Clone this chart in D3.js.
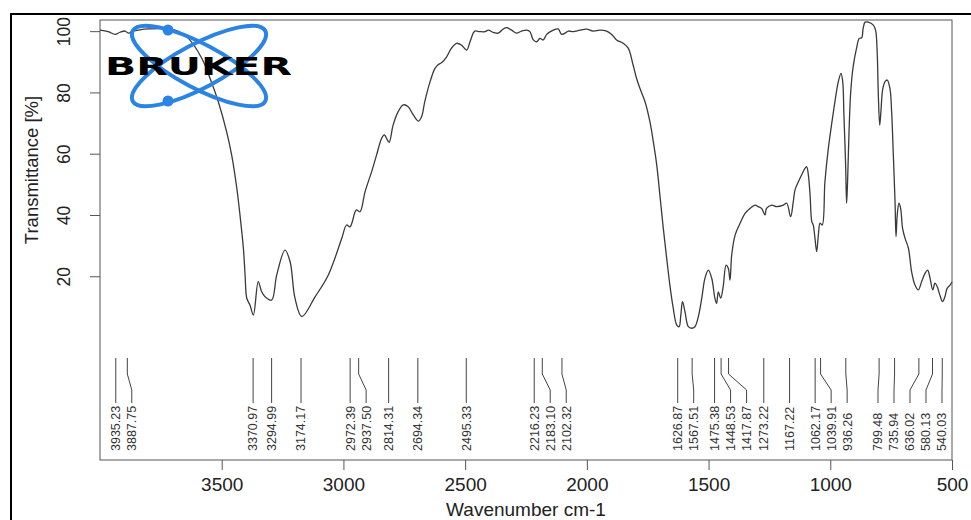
<!DOCTYPE html>
<html>
<head>
<meta charset="utf-8">
<script src="https://cdn.jsdelivr.net/npm/d3@7"></script>
<style>
body { margin: 0; background: #fff; }
svg { display: block; }
</style>
</head>
<body>
<script>
// IR spectrum, transmittance vs wavenumber

var wavenumber = [
    4000, 3966, 3938, 3918, 3897, 3884, 3870, 3843, 3802, 3692,
    3637, 3582, 3548, 3514, 3480, 3459, 3438, 3425, 3411, 3404,
    3397, 3384, 3370, 3350, 3336, 3322, 3295, 3274, 3240, 3219,
    3199, 3171, 3116, 3062, 3007, 2987, 2973, 2952, 2946, 2932,
    2911, 2884, 2864, 2843, 2832, 2823, 2812, 2796, 2775, 2754,
    2734, 2713, 2692, 2679, 2666, 2644, 2624, 2610, 2596, 2576,
    2556, 2535, 2515, 2494, 2480, 2467, 2460, 2439, 2418, 2405,
    2385, 2364, 2343, 2330, 2309, 2289, 2268, 2247, 2234, 2220,
    2206, 2193, 2179, 2165, 2138, 2118, 2104, 2090, 2076, 2056,
    2028, 2001, 1974, 1946, 1919, 1898, 1878, 1851, 1830, 1810,
    1796, 1782, 1761, 1741, 1727, 1713, 1700, 1686, 1672, 1659,
    1645, 1631, 1621, 1614, 1607, 1597, 1583, 1570, 1556, 1542,
    1528, 1515, 1501, 1487, 1474, 1467, 1460, 1450, 1440, 1428,
    1419, 1412, 1405, 1391, 1371, 1350, 1330, 1309, 1296, 1282,
    1268, 1262, 1241, 1220, 1193, 1179, 1163, 1152, 1145, 1131,
    1118, 1104, 1097, 1090, 1083, 1076, 1070, 1063, 1056, 1049,
    1042, 1033, 1022, 1008, 995, 981, 967, 956, 949, 944,
    937, 933, 929, 923, 916, 906, 892, 881, 871, 865,
    857, 844, 824, 814, 807, 803, 797, 792, 785, 775,
    766, 755, 748, 741, 734, 730, 725, 718, 711, 703,
    693, 679, 666, 652, 638, 625, 611, 600, 590, 579,
    570, 561, 550, 539, 529, 520, 508, 500
];

var transmittance = [
    100.5, 100.0, 99.1, 99.8, 100.2, 99.5, 100.0, 100.5, 100.9, 100.5,
    97.8, 91.3, 84.8, 77.1, 67.4, 59.7, 48.9, 40.2, 29.3, 20.6,
    13.0, 10.8, 7.5, 18.4, 15.1, 13.5, 12.4, 20.6, 28.7, 24.9,
    13.0, 7.0, 13.5, 20.6, 32.5, 36.9, 36.3, 41.2, 41.8, 41.2,
    47.8, 54.3, 59.7, 65.2, 66.3, 65.2, 63.9, 69.5, 73.9, 76.1,
    75.5, 72.8, 70.8, 72.2, 77.1, 83.7, 88.0, 89.3, 89.9, 91.8,
    94.6, 96.2, 95.6, 94.0, 96.7, 99.5, 100.2, 100.0, 100.0, 100.5,
    99.8, 99.5, 100.9, 101.3, 100.5, 99.5, 100.2, 100.5, 100.0, 97.3,
    96.7, 97.8, 97.3, 99.1, 100.5, 100.9, 99.1, 99.5, 100.2, 100.0,
    100.5, 100.8, 100.2, 100.5, 100.2, 99.1, 97.3, 96.2, 94.6, 89.1,
    84.8, 81.5, 77.1, 70.6, 64.1, 56.5, 46.7, 35.8, 26.0, 17.3,
    9.7, 4.3, 3.7, 7.5, 11.9, 8.6, 3.7, 3.2, 3.7, 7.0,
    13.0, 19.5, 22.2, 19.5, 13.0, 11.3, 15.1, 13.0, 16.8, 23.8,
    22.8, 18.9, 27.1, 33.6, 37.4, 40.7, 42.3, 43.4, 42.9, 42.3,
    40.2, 42.3, 43.4, 42.9, 43.4, 44.0, 39.6, 44.5, 48.3, 51.0,
    53.2, 55.4, 55.9, 53.2, 46.7, 38.0, 36.9, 32.6, 28.2, 33.6,
    37.5, 36.9, 51.0, 61.9, 69.5, 77.1, 83.7, 86.4, 83.7, 72.8,
    56.5, 44.0, 51.0, 67.3, 80.4, 88.6, 94.6, 97.8, 98.0, 101.1,
    103.1, 103.1, 102.2, 100.5, 92.4, 80.4, 69.5, 73.9, 81.0, 83.7,
    84.2, 81.5, 73.9, 59.7, 44.5, 33.1, 40.2, 44.0, 42.3, 35.8,
    32.6, 29.3, 21.7, 17.3, 15.7, 18.4, 21.1, 22.2, 19.5, 15.7,
    17.9, 16.8, 14.1, 11.9, 13.5, 16.2, 17.3, 18.3
];

// picked peaks
var peaks = [
    3935.23, 3887.75, 3370.97, 3294.99, 3174.17, 2972.39, 2937.50, 2814.31,
    2694.34, 2495.33, 2216.23, 2183.10, 2102.32, 1626.87, 1567.51, 1475.38,
    1448.53, 1417.87, 1273.22, 1167.22, 1062.17, 1039.91, 936.26, 799.48,
    735.94, 636.02, 580.13, 540.03
];

var xTicks = [3500, 3000, 2500, 2000, 1500, 1000, 500];
var yTicks = [20, 40, 60, 80, 100];

var width = 971, height = 520;
var font = "Liberation Sans, Arial, sans-serif";

var svg = d3.select("body").append("svg")
    .attr("width", width)
    .attr("height", height);

var x = d3.scaleLinear().domain([4000, 500]).range([100, 952]);
var y = d3.scaleLinear().domain([-39.8, 103.8]).range([460, 20]);

// outer frame
svg.append("rect")
    .attr("x", 11).attr("y", 14)
    .attr("width", 990).attr("height", 540)
    .attr("fill", "none")
    .attr("stroke", "#000")
    .attr("stroke-width", 2);

// plot box
svg.append("rect")
    .attr("x", x.range()[0]).attr("y", y.range()[1])
    .attr("width", x.range()[1] - x.range()[0])
    .attr("height", y.range()[0] - y.range()[1])
    .attr("fill", "none")
    .attr("stroke", "#555")
    .attr("stroke-width", 1);

// x axis
var xAxis = svg.append("g")
    .attr("transform", "translate(0," + y.range()[0] + ")")
    .call(d3.axisBottom(x).tickValues(xTicks).tickSize(10).tickPadding(8).tickFormat(d3.format("d")));
xAxis.select(".domain").remove();
xAxis.selectAll("line").attr("stroke", "#555");
xAxis.selectAll("text")
    .attr("font-family", font)
    .attr("font-size", 19)
    .attr("fill", "#222");

svg.append("text")
    .attr("x", (x.range()[0] + x.range()[1]) / 2)
    .attr("y", 516)
    .attr("text-anchor", "middle")
    .attr("font-family", font)
    .attr("font-size", 19)
    .attr("fill", "#222")
    .text("Wavenumber cm-1");

// y axis, R style with rotated labels
var yAxis = svg.append("g")
    .attr("transform", "translate(" + x.range()[0] + ",0)");
yAxis.selectAll("line")
    .data(yTicks)
    .enter().append("line")
    .attr("x1", -10).attr("x2", 0)
    .attr("y1", d => y(d)).attr("y2", d => y(d))
    .attr("stroke", "#555");
yAxis.selectAll("text")
    .data(yTicks)
    .enter().append("text")
    .attr("transform", d => "translate(-36," + y(d) + ") rotate(-90)")
    .attr("text-anchor", "middle")
    .attr("dy", "0.35em")
    .attr("font-family", font)
    .attr("font-size", 17.5)
    .attr("fill", "#222")
    .text(d => d);

svg.append("text")
    .attr("transform", "translate(32,170) rotate(-90)")
    .attr("text-anchor", "middle")
    .attr("dy", "0.35em")
    .attr("font-family", font)
    .attr("font-size", 18.5)
    .attr("fill", "#222")
    .text("Transmittance [%]");

// spectrum
var points = wavenumber.map((w, i) => [w, transmittance[i]]);
var line = d3.line()
    .x(d => x(d[0]))
    .y(d => y(d[1]))
    .curve(d3.curveCatmullRom.alpha(0.5));

svg.append("path")
    .datum(points)
    .attr("d", line)
    .attr("fill", "none")
    .attr("stroke", "#3a3a3a")
    .attr("stroke-width", 1.3);

// peak labels, spread out so they do not overlap
var gap = 16;
var lx = peaks.map(p => x(p));
for (var i = 1; i < lx.length; i++) {
    lx[i] = Math.max(lx[i], lx[i - 1] + gap);
}
lx[lx.length - 1] = Math.min(lx[lx.length - 1], x.range()[1] - 10);
for (var i = lx.length - 2; i >= 0; i--) {
    lx[i] = Math.min(lx[i], lx[i + 1] - gap);
}

var peakG = svg.append("g");
peaks.forEach(function (p, i) {
    var px = x(p);
    peakG.append("path")
        .attr("d", "M" + px + ",358 L" + px + ",374 L" + lx[i] + ",390 L" + lx[i] + ",403")
        .attr("fill", "none")
        .attr("stroke", "#444")
        .attr("stroke-width", 1);
    peakG.append("text")
        .attr("transform", "translate(" + lx[i] + ",451) rotate(-90)")
        .attr("dy", "0.35em")
        .attr("font-family", font)
        .attr("font-size", 12.5)
        .attr("fill", "#333")
        .text(p.toFixed(2));
});

// Bruker logo
var logo = svg.append("g");
[28, -28].forEach(function (a) {
    logo.append("ellipse")
        .attr("cx", 0).attr("cy", 0)
        .attr("rx", 75).attr("ry", 22)
        .attr("transform", "translate(199,66) rotate(" + a + ")")
        .attr("fill", "none")
        .attr("stroke", "#2a84e6")
        .attr("stroke-width", 4);
});
[[168, 30], [168, 101]].forEach(function (c) {
    logo.append("circle")
        .attr("cx", c[0]).attr("cy", c[1])
        .attr("r", 5.5)
        .attr("fill", "#2a84e6");
});
logo.append("text")
    .attr("x", 105).attr("y", 75)
    .attr("textLength", 187)
    .attr("lengthAdjust", "spacingAndGlyphs")
    .attr("font-family", "DejaVu Sans, sans-serif")
    .attr("font-weight", "bold")
    .attr("font-size", 24)
    .attr("fill", "#000")
    .text("BRUKER");
</script>
</body>
</html>
